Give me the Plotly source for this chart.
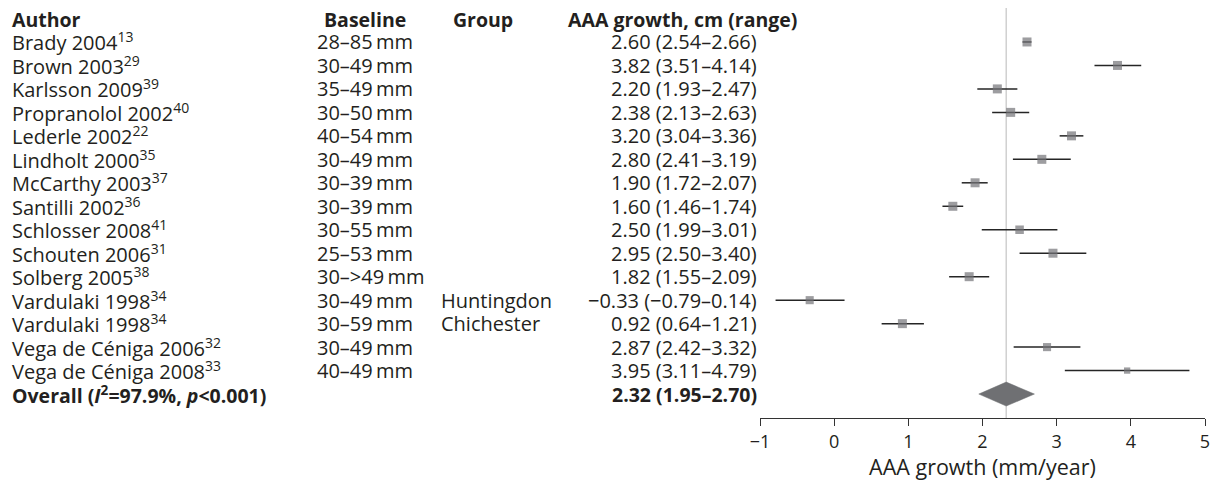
import plotly.graph_objects as go

# ---- data ----
authors = ["Brady 2004", "Brown 2003", "Karlsson 2009", "Propranolol 2002", "Lederle 2002",
           "Lindholt 2000", "McCarthy 2003", "Santilli 2002", "Schlosser 2008", "Schouten 2006",
           "Solberg 2005", "Vardulaki 1998", "Vardulaki 1998", "Vega de Céniga 2006",
           "Vega de Céniga 2008"]
refs = ["13", "29", "39", "40", "22", "35", "37", "36", "41", "31", "38", "34", "34", "32", "33"]
baseline = ["28–85", "30–49", "35–49", "30–50", "40–54", "30–49", "30–39", "30–39", "30–55",
            "25–53", "30–>49", "30–49", "30–59", "30–49", "40–49"]
group = ["", "", "", "", "", "", "", "", "", "", "", "Huntingdon", "Chichester", "", ""]
est = [2.60, 3.82, 2.20, 2.38, 3.20, 2.80, 1.90, 1.60, 2.50, 2.95, 1.82, -0.33, 0.92, 2.87, 3.95]
lo = [2.54, 3.51, 1.93, 2.13, 3.04, 2.41, 1.72, 1.46, 1.99, 2.50, 1.55, -0.79, 0.64, 2.42, 3.11]
hi = [2.66, 4.14, 2.47, 2.63, 3.36, 3.19, 2.07, 1.74, 3.01, 3.40, 2.09, 0.14, 1.21, 3.32, 4.79]
weight = [1.0, 1.0, 1.0, 1.0, 1.0, 1.0, 1.0, 1.0, 0.95, 1.0, 1.0, 0.9, 1.0, 0.9, 0.7]
overall_est, overall_lo, overall_hi = 2.32, 1.95, 2.70
overall_label = "Overall (<i>I</i><sup>2</sup>=97.9%, <i>p</i>&#60;0.001)"
headers = ["Author", "Baseline", "Group", "AAA growth, cm (range)"]
tick_vals = [-1, 0, 1, 2, 3, 4, 5]
x_title = "AAA growth (mm/year)"

# ---- style ----
OFF = 8                      # page offset of the plot inside the browser window
W, H = 1218 - OFF, 481 - OFF
FONT = "Open Sans"
FS = 20
FSB = 19.5
TXT = "#231f20"
MARK = "#737477"

def px(xref):
    return (xref - OFF) / W

n = len(authors)
rows = list(range(1, n + 1))
overall_row = n + 1
y_top, y_bot = -0.447, 17.02

fig = go.Figure()

# reference line at overall estimate
fig.add_trace(go.Scatter(x=[overall_est, overall_est], y=[y_top, y_bot], mode="lines",
                         line=dict(color="#d0d0d0", width=1.5), hoverinfo="skip", showlegend=False))

# study estimates with CIs
fig.add_trace(go.Scatter(
    x=est, y=rows, mode="markers",
    marker=dict(symbol="square", color=MARK, size=[9 * w for w in weight], line=dict(width=0)),
    error_x=dict(type="data", symmetric=False,
                 array=[h - e for h, e in zip(hi, est)],
                 arrayminus=[e - l for e, l in zip(est, lo)],
                 color="#252525", thickness=1.5, width=0),
    showlegend=False))

# overall diamond
dh = 0.51
fig.add_trace(go.Scatter(
    x=[overall_lo, overall_est, overall_hi, overall_est, overall_lo],
    y=[overall_row, overall_row - dh, overall_row, overall_row + dh, overall_row],
    mode="lines", fill="toself", fillcolor="#6f7073", line=dict(color="#6f7073", width=0.5),
    showlegend=False, hoverinfo="skip"))

ann = []
def add(text, xr, y, anchor="left", bold=False):
    ann.append(dict(text=f"<b>{text}</b>" if bold else text, x=px(xr), xref="paper", y=y, yref="y",
                    xanchor=anchor, yanchor="middle", showarrow=False, borderpad=0, borderwidth=0,
                    font=dict(family=FONT, size=FSB if bold else FS, color=TXT)))

hy = 0.05
add(headers[0], 12, hy, bold=True)
add(headers[1], 324, hy, bold=True)
add(headers[2], 453, hy, bold=True)
add(headers[3], 568, hy, bold=True)

for i in range(n):
    r = rows[i]
    add(f"{authors[i]}<sup>{refs[i]}</sup>", 12, r)
    add(baseline[i].replace(">", "&#62;") + "\u2009mm", 317, r)
    if group[i]:
        add(group[i], 441, r)
    add(f"{est[i]:.2f} ({lo[i]:.2f}–{hi[i]:.2f})".replace("-", "−"), 757, r, anchor="right")

add(overall_label, 12, overall_row, bold=True)
add(f"{overall_est:.2f} ({overall_lo:.2f}–{overall_hi:.2f})", 757, overall_row, anchor="right", bold=True)

fig.update_layout(
    width=W, height=H, margin=dict(l=0, r=0, t=0, b=0, autoexpand=False),
    paper_bgcolor="white", plot_bgcolor="white",
    annotations=ann, showlegend=False,
    xaxis=dict(domain=[px(760), px(1205)], range=[-1, 5], tickvals=tick_vals, automargin=False,
               ticktext=[str(v).replace("-", "−") for v in tick_vals],
               showgrid=False, zeroline=False, showline=True, linecolor="#333", linewidth=1,
               ticks="outside", ticklen=7, tickcolor="#333", tickwidth=1,
               tickfont=dict(family=FONT, size=18, color=TXT),
               title=dict(text=x_title, font=dict(family=FONT, size=21.5, color=TXT), standoff=1)),
    yaxis=dict(domain=[(481 - 418) / H, 1], range=[y_bot, y_top], visible=False,
               showgrid=False, zeroline=False, automargin=False),
)

fig.write_html("out.html")
